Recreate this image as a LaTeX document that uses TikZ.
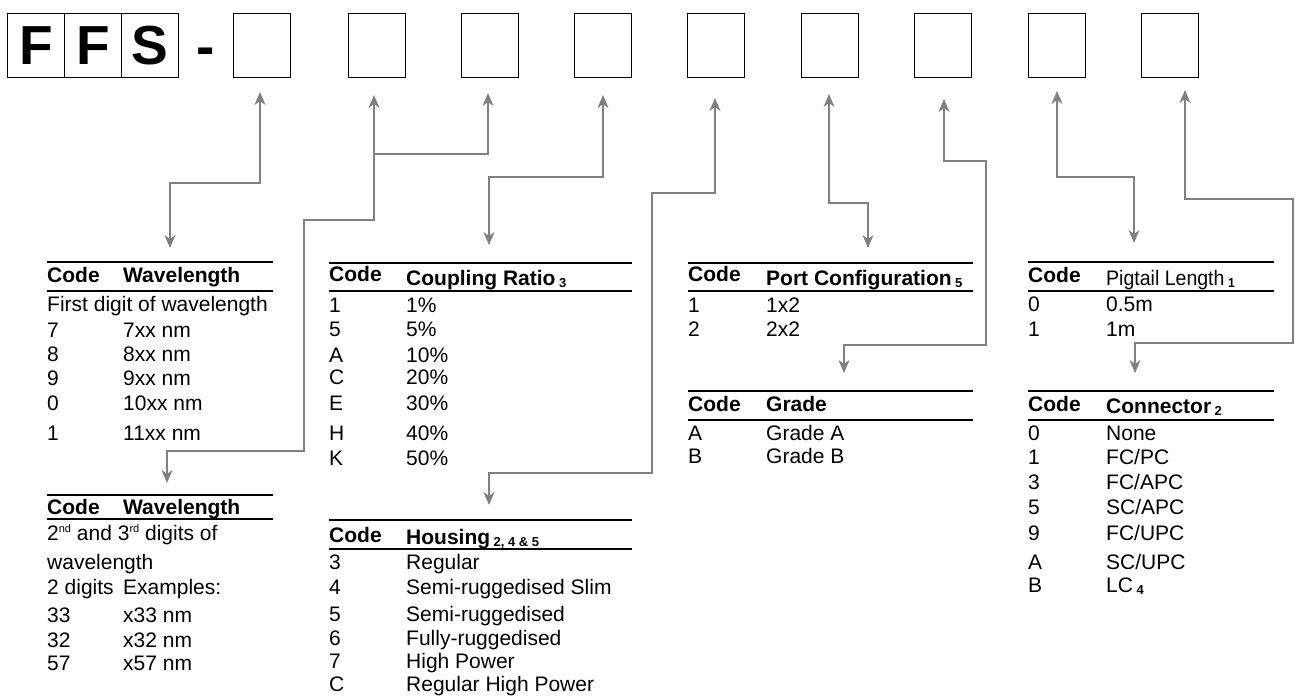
\documentclass[tikz,border=0pt]{standalone}
\usepackage{fontspec}
\setmainfont{Liberation Sans}
\newfontfamily\narrowsans{Liberation Sans}[FakeStretch=0.93]
\usetikzlibrary{arrows.meta}

\definecolor{linkgray}{RGB}{128,128,128}

% one table row: name, x of code, x of value, baseline y, code, value
\newcommand\tabrow[6]{%
  \node[cell] (#1c) at (#2,#4) {#5};
  \node[cell] (#1v) at (#3,#4) {#6};}
% small bold footnote number after a heading
\newcommand\fn[1]{\,\raisebox{-2pt}{\fontsize{13}{13}\selectfont\bfseries #1}}
\newcommand\sups[1]{\raisebox{8pt}{\fontsize{11}{11}\selectfont #1}}

\tikzset{
  codebox/.style={draw, line width=1.3pt, minimum width=57pt, minimum height=64pt,
    inner sep=0pt, anchor=north west},
  letterbox/.style={codebox, font=\fontsize{55}{60}\selectfont\bfseries},
  cell/.style={anchor=base west, inner sep=0pt, font=\fontsize{21}{25}\selectfont},
  head/.style={cell, font=\fontsize{21}{25}\selectfont\bfseries},
  rule/.style={line width=1.3pt},
  link/.style={draw=linkgray, line width=1.3pt},
  tip/.style={-{Stealth[length=13pt,width=11pt,inset=4pt]}},
  tips/.style={{Stealth[length=13pt,width=11pt,inset=4pt]}-{Stealth[length=13pt,width=11pt,inset=4pt]}}
}

\begin{document}
\begin{tikzpicture}[x=1pt, y=-1pt]
\useasboundingbox (0,0) rectangle (1297,697);

% ---- part number boxes ----
\node[letterbox] (f1) at (7,13) {F};
\node[letterbox] (f2) at (64,13) {F};
\node[letterbox] (s3) at (121,13) {S};
\node[anchor=base, inner sep=0pt, font=\fontsize{55}{60}\selectfont\bfseries] (dash) at (206,65) {-};
\foreach \x [count=\i] in {233,348,461,574,687,801,914,1028,1141}
  \node[codebox] (b\i) at (\x,13) {};

% arrow tips under the boxes
\coordinate (b1t) at (260,92);
\coordinate (b2t) at (374,95);
\coordinate (b3t) at (488,93);
\coordinate (b4t) at (603,95);
\coordinate (b5t) at (715,98);
\coordinate (b6t) at (829,94);
\coordinate (b7t) at (944,99);
\coordinate (b8t) at (1057,91);
\coordinate (b9t) at (1185,90);

% arrow tips above the tables
\coordinate (t1in) at (170,248);
\coordinate (t2in) at (167,483);
\coordinate (t3in) at (489,245);
\coordinate (t4in) at (489,505);
\coordinate (t5in) at (868,248);
\coordinate (t6in) at (844,373);
\coordinate (t7in) at (1134,243);
\coordinate (t8in) at (1135,373);
\coordinate (j23) at (374,154);

% ---- connectors ----
\draw[link,tips] (b1t) -- (260,183) -- (170,183) -- (t1in);
\draw[link,tips] (b2t) -- (374,220) -- (304,220) -- (304,451) -- (167,451) -- (t2in);
\draw[link,tip] (j23) -- (488,154) -- (b3t);
\draw[link,tips] (b4t) -- (603,177) -- (489,177) -- (t3in);
\draw[link,tips] (b5t) -- (715,193) -- (652,193) -- (652,473) -- (489,473) -- (t4in);
\draw[link,tips] (b6t) -- (829,203) -- (868,203) -- (t5in);
\draw[link,tips] (b7t) -- (944,161) -- (986,161) -- (986,345) -- (844,345) -- (t6in);
\draw[link,tips] (b8t) -- (1057,177) -- (1134,177) -- (t7in);
\draw[link,tips] (b9t) -- (1185,199) -- (1293,199) -- (1293,343) -- (1135,343) -- (t8in);

% ---- Wavelength (first digit) ----
\draw[rule] (47,262) -- (273,262);
\draw[rule] (47,291) -- (273,291);
\node[head] (wa-hc) at (47,282) {Code};
\node[head] (wa-hv) at (123,282) {Wavelength};
\node[cell] (wa-note) at (47,311) {First digit of wavelength};
\tabrow{wa1}{47}{123}{337}{7}{7xx nm}
\tabrow{wa2}{47}{123}{361}{8}{8xx nm}
\tabrow{wa3}{47}{123}{385}{9}{9xx nm}
\tabrow{wa4}{47}{123}{410}{0}{10xx nm}
\tabrow{wa5}{47}{123}{440}{1}{11xx nm}

% ---- Wavelength (second and third digits) ----
\draw[rule] (47,495) -- (273,495);
\draw[rule] (47,519) -- (273,519);
\node[head] (wb-hc) at (47,514) {Code};
\node[head] (wb-hv) at (123,514) {Wavelength};
\node[cell] (wb-note1) at (47,540) {2\sups{nd} and 3\sups{rd} digits of};
\node[cell] (wb-note2) at (47,569) {wavelength};
\tabrow{wb0}{47}{123}{594}{2 digits}{Examples:}
\tabrow{wb1}{47}{123}{622}{33}{x33 nm}
\tabrow{wb2}{47}{123}{647}{32}{x32 nm}
\tabrow{wb3}{47}{123}{670}{57}{x57 nm}

% ---- Coupling ratio ----
\draw[rule] (329,263) -- (632,263);
\draw[rule] (329,291) -- (632,291);
\node[head] (cr-hc) at (329,281) {Code};
\node[head] (cr-hv) at (406,285) {Coupling Ratio\fn{3}};
\tabrow{cr1}{329}{406}{312}{1}{1\%}
\tabrow{cr2}{329}{406}{336}{5}{5\%}
\tabrow{cr3}{329}{406}{362}{A}{10\%}
\tabrow{cr4}{329}{406}{384}{C}{20\%}
\tabrow{cr5}{329}{406}{410}{E}{30\%}
\tabrow{cr6}{329}{406}{440}{H}{40\%}
\tabrow{cr7}{329}{406}{465}{K}{50\%}

% ---- Housing ----
\draw[rule] (329,520) -- (632,520);
\draw[rule] (329,549) -- (632,549);
\node[head] (ho-hc) at (329,542) {Code};
\node[head] (ho-hv) at (406,544) {Housing\fn{2, 4 \& 5}};
\tabrow{ho1}{329}{406}{569}{3}{Regular}
\tabrow{ho2}{329}{406}{594}{4}{Semi-ruggedised Slim}
\tabrow{ho3}{329}{406}{621}{5}{Semi-ruggedised}
\tabrow{ho4}{329}{406}{645}{6}{Fully-ruggedised}
\tabrow{ho5}{329}{406}{668}{7}{High Power}
\tabrow{ho6}{329}{406}{691}{C}{Regular High Power}

% ---- Port configuration ----
\draw[rule] (688,263) -- (973,263);
\draw[rule] (688,291) -- (973,291);
\node[head] (pc-hc) at (688,281) {Code};
\node[head] (pc-hv) at (766,285) {Port Configuration\fn{5}};
\tabrow{pc1}{688}{766}{312}{1}{1x2}
\tabrow{pc2}{688}{766}{336}{2}{2x2}

% ---- Grade ----
\draw[rule] (688,391) -- (973,391);
\draw[rule] (688,420) -- (973,420);
\node[head] (gr-hc) at (688,411) {Code};
\node[head] (gr-hv) at (766,411) {Grade};
\tabrow{gr1}{688}{766}{440}{A}{Grade A}
\tabrow{gr2}{688}{766}{463}{B}{Grade B}

% ---- Pigtail length ----
\draw[rule] (1028,262) -- (1274,262);
\draw[rule] (1028,291) -- (1274,291);
\node[head] (pl-hc) at (1028,282) {Code};
\node[cell] (pl-hv) at (1106,285) {\narrowsans Pigtail Length\fn{1}};
\tabrow{pl1}{1028}{1106}{311}{0}{0.5m}
\tabrow{pl2}{1028}{1106}{336}{1}{1m}

% ---- Connector ----
\draw[rule] (1028,391) -- (1274,391);
\draw[rule] (1028,420) -- (1274,420);
\node[head] (co-hc) at (1028,411) {Code};
\node[head] (co-hv) at (1106,413) {Connector\fn{2}};
\tabrow{co1}{1028}{1106}{440}{0}{None}
\tabrow{co2}{1028}{1106}{464}{1}{FC/PC}
\tabrow{co3}{1028}{1106}{489}{3}{FC/APC}
\tabrow{co4}{1028}{1106}{514}{5}{SC/APC}
\tabrow{co5}{1028}{1106}{540}{9}{FC/UPC}
\tabrow{co6}{1028}{1106}{569}{A}{SC/UPC}
\tabrow{co7}{1028}{1106}{592}{B}{LC\fn{4}}
\end{tikzpicture}
\end{document}
